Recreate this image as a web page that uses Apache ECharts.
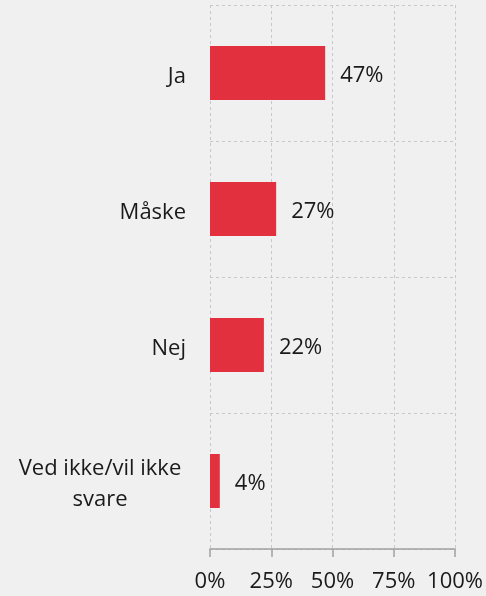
<!DOCTYPE html>
<html>
<head>
<meta charset="utf-8">
<style>
html,body{margin:0;padding:0;background:#f0f0f0;}
#c{width:486px;height:596px;}
</style>
<script src="https://cdn.jsdelivr.net/npm/echarts@6/dist/echarts.min.js"></script>
</head>
<body>
<div id="c"></div>
<script>
const categories = ["Ja", "Måske", "Nej", "Ved ikke/vil ikke svare"];
const values = [47, 27, 22, 4];
const tickLabels = ["0%", "25%", "50%", "75%", "100%"];

function wrap(text, maxChars) {
  const words = text.split(' ');
  const lines = [];
  let cur = '';
  words.forEach(function (w) {
    const t = cur ? cur + ' ' + w : w;
    if (t.length > maxChars && cur) { lines.push(cur); cur = w; } else { cur = t; }
  });
  if (cur) lines.push(cur);
  return lines;
}

const chart = echarts.init(document.getElementById('c'), null, {renderer: 'canvas'});
const font = '"Open Sans", "Noto Sans", sans-serif';
const FS = 22;
chart.setOption({
  backgroundColor: '#f0f0f0',
  animation: false,
  grid: {left: 210, right: 29, top: 5, bottom: 47, containLabel: false},
  xAxis: {
    type: 'value', min: 0, max: 100, interval: 25,
    axisLine: {show: true, lineStyle: {color: '#a0a0a0', width: 1.5}},
    axisTick: {show: true, length: 8, lineStyle: {color: '#a0a0a0', width: 1.5}},
    axisLabel: {
      margin: 22, fontSize: FS, color: '#1a1a1a', fontFamily: font,
      formatter: function (v) { return tickLabels[Math.round(v / 25)]; }
    },
    splitLine: {show: true, lineStyle: {color: '#c8c8c8', type: [3, 3], width: 1}}
  },
  yAxis: {
    type: 'category', data: categories, inverse: true,
    axisLine: {show: false},
    axisTick: {show: false},
    axisLabel: {
      margin: 24, fontSize: FS, color: '#1a1a1a', fontFamily: font,
      align: 'right', lineHeight: 31, padding: [7, 0, 0, 0],
      formatter: function (v) {
        const lines = wrap(v, 18);
        if (lines.length === 1) return v;
        return lines.map(function (l) { return '{c|' + l + '}'; }).join('\n');
      },
      rich: {
        c: {width: 172, align: 'center', fontSize: FS, lineHeight: 31, color: '#1a1a1a', fontFamily: font}
      }
    },
    splitLine: {show: true, lineStyle: {color: '#c8c8c8', type: [3, 3], width: 1}}
  },
  series: [{
    type: 'bar', data: values, barWidth: 54,
    itemStyle: {color: '#e3303e'},
    label: {
      show: true, position: 'right', distance: 15, offset: [0, 3],
      fontSize: FS, color: '#1a1a1a', fontFamily: font,
      formatter: '{c}%'
    }
  }]
});
</script>
</body>
</html>
